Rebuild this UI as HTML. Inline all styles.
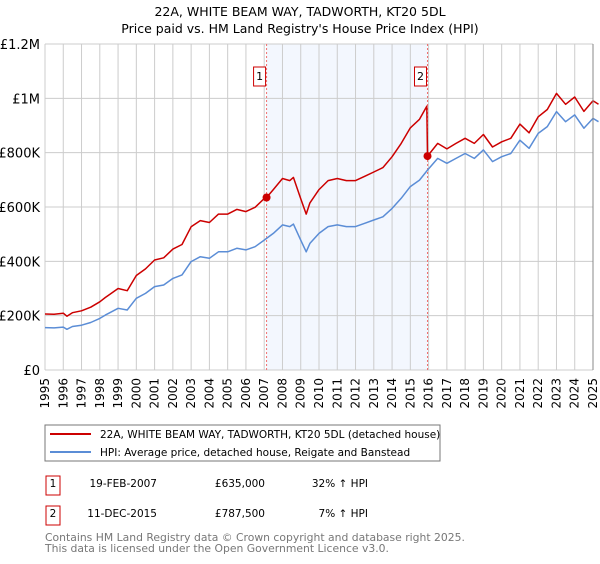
<!DOCTYPE html>
<html><head><meta charset="utf-8"><style>
body{margin:0;background:#fff;font-family:"DejaVu Sans","Liberation Sans",sans-serif;}
</style></head><body>
<svg id="c" width="600" height="560" xmlns="http://www.w3.org/2000/svg" font-family="DejaVu Sans, Liberation Sans, sans-serif">
<text x="300" y="16" text-anchor="middle" font-size="12.5">22A, WHITE BEAM WAY, TADWORTH, KT20 5DL</text>
<text x="300" y="33" text-anchor="middle" font-size="12.5">Price paid vs. HM Land Registry's House Price Index (HPI)</text>
<g id="plot"></g>
<rect x="45" y="425" width="395" height="36" fill="#fff" stroke="#777"/>
<line x1="50" y1="434" x2="91" y2="434" stroke="#cc0000" stroke-width="2"/>
<text x="100" y="438" font-size="10.5">22A, WHITE BEAM WAY, TADWORTH, KT20 5DL (detached house)</text>
<line x1="50" y1="452" x2="91" y2="452" stroke="#5b8dd6" stroke-width="2"/>
<text x="100" y="456" font-size="10.5">HPI: Average price, detached house, Reigate and Banstead</text>
<g font-size="10.5">
<rect x="46" y="476" width="14" height="19" fill="#fff" stroke="#cc0000"/>
<text x="53" y="487" text-anchor="middle">1</text>
<text x="157" y="487" text-anchor="end">19-FEB-2007</text>
<text x="265" y="487" text-anchor="end">£635,000</text>
<text x="368" y="487" text-anchor="end">32% ↑ HPI</text>
<rect x="46" y="506" width="14" height="19" fill="#fff" stroke="#cc0000"/>
<text x="53" y="517" text-anchor="middle">2</text>
<text x="157" y="517" text-anchor="end">11-DEC-2015</text>
<text x="265" y="517" text-anchor="end">£787,500</text>
<text x="368" y="517" text-anchor="end">7% ↑ HPI</text>
</g>
<text x="45" y="541" font-size="10.8" fill="#777">Contains HM Land Registry data © Crown copyright and database right 2025.</text>
<text x="45" y="552" font-size="10.8" fill="#777">This data is licensed under the Open Government Licence v3.0.</text>
</svg>
<script>
const yTicks=[0,200,400,600,800,1000,1200];
const yTickLabels=["£0","£200K","£400K","£600K","£800K","£1M","£1.2M"];
const xYears=[1995,1996,1997,1998,1999,2000,2001,2002,2003,2004,2005,2006,2007,2008,2009,2010,2011,2012,2013,2014,2015,2016,2017,2018,2019,2020,2021,2022,2023,2024,2025];
const hpiYears=[1995,1995.5,1996,1996.2,1996.5,1997,1997.5,1998,1998.3,1998.5,1999,1999.5,2000,2000.5,2001,2001.5,2002,2002.5,2003,2003.5,2004,2004.5,2005,2005.5,2006,2006.5,2007,2007.5,2008,2008.4,2008.6,2009,2009.3,2009.5,2010,2010.5,2011,2011.5,2012,2012.5,2013,2013.5,2014,2014.5,2015,2015.5,2015.94,2016.5,2017,2017.5,2018,2018.5,2019,2019.5,2020,2020.5,2021,2021.5,2022,2022.5,2023,2023.5,2024,2024.5,2025,2025.3];
const hpiValues=[156,155,158,150,160,165,175,190,202,209,227,221,264,282,307,313,337,350,399,417,411,435,435,448,442,454,478,503,534,528,537,478,435,466,503,528,534,528,528,540,552,564,595,632,675,699,736,779,761,779,797,779,810,767,785,797,846,816,871,896,951,914,939,890,926,914];
const propYears=[1995,1995.5,1996,1996.2,1996.5,1997,1997.5,1998,1998.3,1998.5,1999,1999.5,2000,2000.5,2001,2001.5,2002,2002.5,2003,2003.5,2004,2004.5,2005,2005.5,2006,2006.5,2007,2007.13,2007.5,2008,2008.4,2008.6,2009,2009.3,2009.5,2010,2010.5,2011,2011.5,2012,2012.5,2013,2013.5,2014,2014.5,2015,2015.5,2015.9,2015.94,2016.5,2017,2017.5,2018,2018.5,2019,2019.5,2020,2020.5,2021,2021.5,2022,2022.5,2023,2023.5,2024,2024.5,2025,2025.3];
const propValues=[206,205,209,198,211,218,231,251,267,276,300,292,348,372,405,413,445,462,527,550,543,574,574,591,583,599,631,635,664,705,697,709,631,574,615,664,697,705,697,697,713,729,745,785,834,891,923,971,787.5,834,814,834,853,834,867,821,840,853,905,873,932,959,1018,978,1005,952,991,978];
const saleYears=[2007.13,2015.94];
const saleValues=[635,787.5];
const saleLabels=["1","2"];

const X0=45,X1=593,Y0=370,Y1=44;
const x=y=>X0+(y-1995)*(X1-X0)/30;
const yv=v=>Y0-v*(Y0-Y1)/1200;
const NS="http://www.w3.org/2000/svg";
const g=document.getElementById('plot');
function mk(t,a){const e=document.createElementNS(NS,t);for(const k in a)e.setAttribute(k,a[k]);g.appendChild(e);return e;}
let sh=mk('rect',{x:x(saleYears[0]),y:Y1,width:x(saleYears[1])-x(saleYears[0]),height:Y0-Y1,fill:'#eef3fd',opacity:'0.7'});


xYears.forEach(yr=>{let l=mk('line',{x1:x(yr),x2:x(yr),y1:Y1,y2:Y0,stroke:'#ccc'});


let t=mk('text',{x:0,y:0,'font-size':12,'text-anchor':'end',transform:`translate(${x(yr)+4},${Y0+8}) rotate(-90)`});
t.textContent=yr;

});
yTicks.forEach((v,i)=>{let l=mk('line',{x1:X0,x2:X1,y1:yv(v),y2:yv(v),stroke:'#ccc'});


let t=mk('text',{x:X0-5,y:yv(v)+5,'font-size':13,'text-anchor':'end'});
t.textContent=yTickLabels[i];

});
saleYears.forEach((s,i)=>{let l=mk('line',{x1:x(s),x2:x(s),y1:Y1,y2:Y0,stroke:'#f07070','stroke-dasharray':'2,2'});


let r=mk('rect',{x:x(s)-13,y:67,width:12,height:19,fill:'#fff',stroke:'#cc0000'});


let t=mk('text',{x:x(s)-7,y:80,'font-size':11,'text-anchor':'middle'});t.textContent=saleLabels[i];

});
function path(xsArr,vals,col,name){let d=xsArr.map((yr,i)=>(i?'L':'M')+x(yr).toFixed(1)+','+yv(vals[i]).toFixed(1)).join('');
let p=mk('path',{d:d,fill:'none',stroke:col,'stroke-width':1.5,'stroke-linejoin':'round'});

}
path(hpiYears,hpiValues,'#5b8dd6','hpi-line');
path(propYears,propValues,'#cc0000','property-line');
saleYears.forEach((s,i)=>{let c=mk('circle',{cx:x(s),cy:yv(saleValues[i]),r:4,fill:'#cc0000'});

});
let ax=mk('line',{x1:X1,x2:X1,y1:Y1,y2:Y0,stroke:'#888'});


</script>
</body></html>
